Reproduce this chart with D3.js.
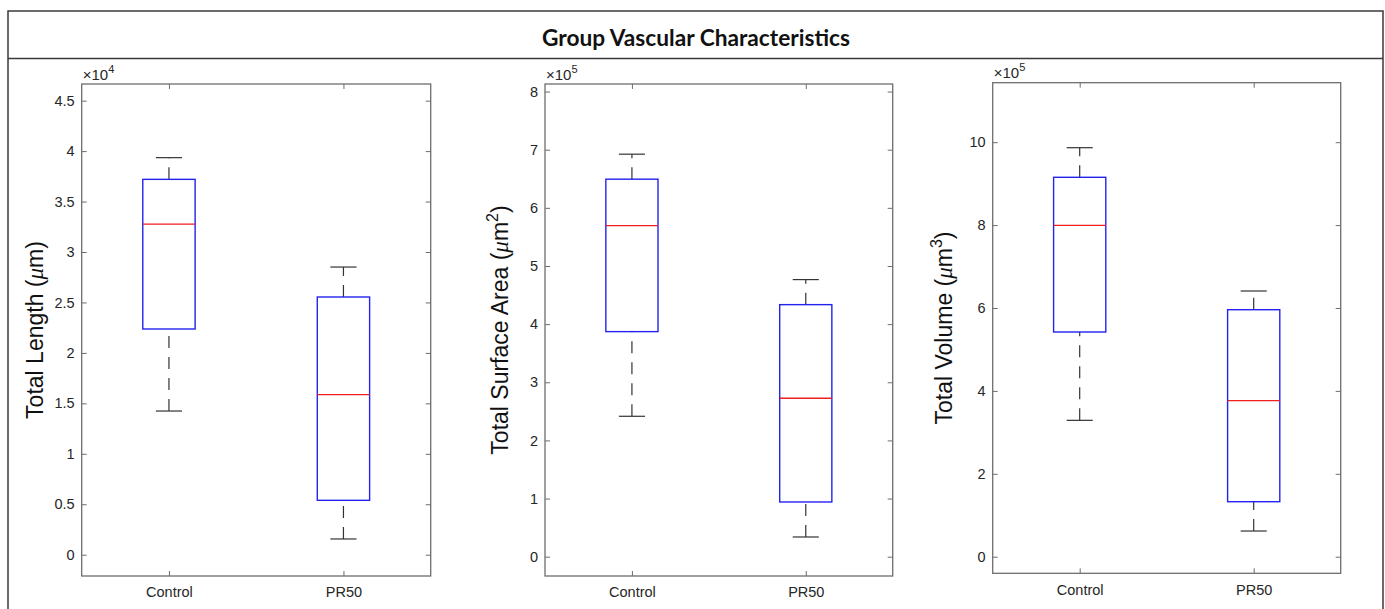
<!DOCTYPE html>
<html>
<head>
<meta charset="utf-8">
<script src="https://cdn.jsdelivr.net/npm/d3@7"></script>
<style>
    body { margin: 0; background: #fff; }
    svg { display: block; }
</style>
</head>
<body>
<div id="chart"></div>
<script>

// groups on the x axis
var groups = ["Control", "PR50"];

// [lower whisker, Q1, median, Q3, upper whisker] per group
var lengthStats = [
    [14240, 22370, 32770, 37200, 39350],
    [1560, 5390, 15860, 25540, 28510]];

var surfaceStats = [
    [241500, 387100, 569500, 649300, 692300],
    [33900, 94100, 272500, 433500, 476600]];

var volumeStats = [
    [329000, 542100, 799500, 915300, 986700],
    [62000, 132700, 376400, 595900, 641000]];

// tick values
var lengthTicks = [0, 5000, 10000, 15000, 20000, 25000, 30000, 35000, 40000, 45000];
var surfaceTicks = [0, 100000, 200000, 300000, 400000, 500000, 600000, 700000, 800000];
var volumeTicks = [0, 200000, 400000, 600000, 800000, 1000000];

var width = 1385,
    height = 609;

var svg = d3.select("#chart")
    .append("svg")
    .attr("width", width)
    .attr("height", height)
    .style("font-family", "'Liberation Sans', Arial, sans-serif");

// outer frame + title band
svg.append("path")
    .attr("d", "M8,620V11H1383V620")
    .attr("fill", "none")
    .attr("stroke", "#3a3a3a")
    .attr("stroke-width", 1.5);

svg.append("line")
    .attr("x1", 8).attr("x2", 1383)
    .attr("y1", 58.5).attr("y2", 58.5)
    .attr("stroke", "#3a3a3a")
    .attr("stroke-width", 1.5);

svg.append("text")
    .attr("x", 696)
    .attr("y", 45.5)
    .attr("text-anchor", "middle")
    .style("font-family", "Lato, 'Open Sans', sans-serif")
    .style("font-weight", "bold")
    .style("font-size", "22.7px")
    .style("fill", "#111")
    .text("Group Vascular Characteristics");

var panels = [
    {stats: lengthStats, ticks: lengthTicks, domain: [-2110, 46650], exp: 4,
        left: 81.7, right: 430.7, top: 84, bottom: 576, labelX: 43, title: "Total Length", power: ""},
    {stats: surfaceStats, ticks: surfaceTicks, domain: [-33200, 813000], exp: 5,
        left: 545, right: 892.7, top: 84, bottom: 576, labelX: 508, title: "Total Surface Area", power: "2"},
    {stats: volumeStats, ticks: volumeTicks, domain: [-40000, 1143500], exp: 5,
        left: 992.7, right: 1340.7, top: 82.7, bottom: 573.3, labelX: 952, title: "Total Volume", power: "3"}
];

var axisColor = "#6e6e6e";

panels.forEach(function (p) {

    var x = d3.scaleLinear()
        .domain([0.5, 2.5])
        .range([p.left, p.right]);

    var y = d3.scaleLinear()
        .domain(p.domain)
        .range([p.bottom, p.top]);

    var scale = Math.pow(10, p.exp);
    var g = svg.append("g");

    // axes (ticks inward, MATLAB style)
    var yLeft = g.append("g")
        .attr("transform", "translate(" + p.left + ",0)")
        .call(d3.axisLeft(y).tickValues(p.ticks).tickSize(-5).tickPadding(7)
            .tickFormat(function (d) { return +(d / scale).toFixed(2); }));

    var yRight = g.append("g")
        .attr("transform", "translate(" + p.right + ",0)")
        .call(d3.axisRight(y).tickValues(p.ticks).tickSize(-5).tickFormat(""));

    var xBottom = g.append("g")
        .attr("transform", "translate(0," + p.bottom + ")")
        .call(d3.axisBottom(x).tickValues([1, 2]).tickSize(-5).tickPadding(11)
            .tickFormat(function (d) { return groups[d - 1]; }));

    var xTop = g.append("g")
        .attr("transform", "translate(0," + p.top + ")")
        .call(d3.axisTop(x).tickValues([1, 2]).tickSize(-5).tickFormat(""));

    [yLeft, yRight, xBottom, xTop].forEach(function (a) {
        a.select(".domain").remove();
        a.selectAll("line").attr("stroke", axisColor).attr("stroke-width", 1);
        a.selectAll("text")
            .style("font-family", "'Liberation Sans', Arial, sans-serif")
            .style("font-size", "14.5px")
            .style("fill", "#262626");
    });

    g.append("rect")
        .attr("x", p.left)
        .attr("y", p.top)
        .attr("width", p.right - p.left)
        .attr("height", p.bottom - p.top)
        .attr("fill", "none")
        .attr("stroke", axisColor)
        .attr("stroke-width", 1.3);

    // x10^n multiplier
    var ex = g.append("text")
        .attr("x", p.left + 1)
        .attr("y", p.top - 4.5)
        .style("font-size", "15px")
        .style("fill", "#262626");
    ex.append("tspan").text("\u00d710");
    ex.append("tspan").attr("dy", -7).style("font-size", "11px").text(p.exp);

    // y axis label
    var lab = g.append("text")
        .attr("transform", "translate(" + p.labelX + "," + ((p.top + p.bottom) / 2) + ") rotate(-90)")
        .attr("text-anchor", "middle")
        .style("font-size", "23px")
        .style("fill", "#111");
    lab.append("tspan").text(p.title + " (");
    lab.append("tspan")
        .style("font-family", "'Liberation Serif', 'DejaVu Serif', serif")
        .style("font-style", "italic")
        .text("\u03bc");
    lab.append("tspan").text("m");
    if (p.power) {
        lab.append("tspan").attr("dy", -10).style("font-size", "16px").text(p.power);
        lab.append("tspan").attr("dy", 10).text(")");
    } else {
        lab.append("tspan").text(")");
    }

    var boxW = 0.3;

    var box = g.selectAll(".box")
        .data(p.stats)
        .enter().append("g")
        .attr("class", "box");

    // whiskers drawn upward from their lower end
    box.append("line")
        .attr("x1", function (d, i) { return x(i + 1); })
        .attr("x2", function (d, i) { return x(i + 1); })
        .attr("y1", function (d) { return y(d[0]); })
        .attr("y2", function (d) { return y(d[1]); })
        .attr("stroke", "#333")
        .attr("stroke-width", 1.2)
        .attr("stroke-dasharray", "12,9");

    box.append("line")
        .attr("x1", function (d, i) { return x(i + 1); })
        .attr("x2", function (d, i) { return x(i + 1); })
        .attr("y1", function (d) { return y(d[3]); })
        .attr("y2", function (d) { return y(d[4]); })
        .attr("stroke", "#333")
        .attr("stroke-width", 1.2)
        .attr("stroke-dasharray", "12,9");

    // caps
    [0, 4].forEach(function (k) {
        box.append("line")
            .attr("x1", function (d, i) { return x(i + 1 - boxW / 4); })
            .attr("x2", function (d, i) { return x(i + 1 + boxW / 4); })
            .attr("y1", function (d) { return y(d[k]); })
            .attr("y2", function (d) { return y(d[k]); })
            .attr("stroke", "#333")
            .attr("stroke-width", 1.2);
    });

    box.append("rect")
        .attr("x", function (d, i) { return x(i + 1 - boxW / 2); })
        .attr("width", function (d, i) { return x(i + 1 + boxW / 2) - x(i + 1 - boxW / 2); })
        .attr("y", function (d) { return y(d[3]); })
        .attr("height", function (d) { return y(d[1]) - y(d[3]); })
        .attr("fill", "none")
        .attr("stroke", "#2323f0")
        .attr("stroke-width", 1.4);

    box.append("line")
        .attr("x1", function (d, i) { return x(i + 1 - boxW / 2); })
        .attr("x2", function (d, i) { return x(i + 1 + boxW / 2); })
        .attr("y1", function (d) { return y(d[2]); })
        .attr("y2", function (d) { return y(d[2]); })
        .attr("stroke", "#f01e1e")
        .attr("stroke-width", 1.3);
});

</script>
</body>
</html>
